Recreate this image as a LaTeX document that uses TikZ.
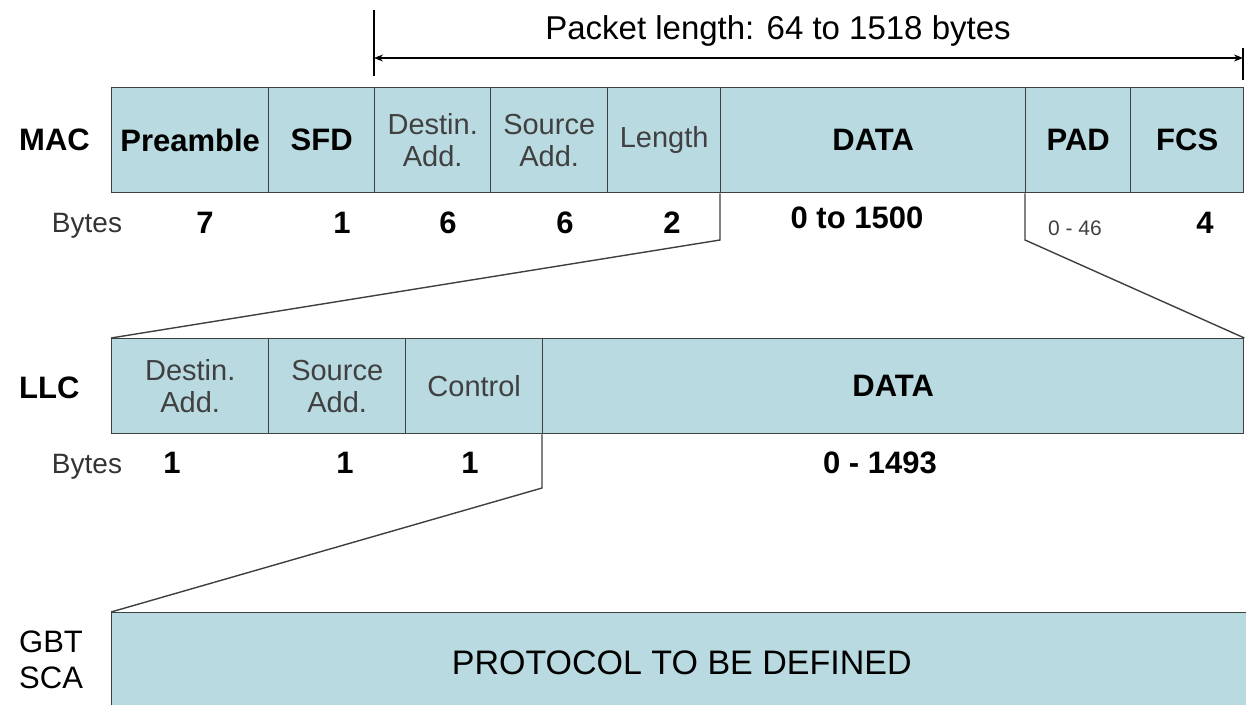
\documentclass[tikz,border=0pt]{standalone}
\usepackage{fontspec}
\setmainfont{Liberation Sans}
\usetikzlibrary{arrows.meta}
\definecolor{cellfill}{RGB}{184,218,224}
\definecolor{edge}{RGB}{60,64,64}
\tikzset{
  cell/.style={draw=edge, line width=1.4pt, fill=cellfill, anchor=north west, inner sep=0pt, align=center, text=black},
  macc/.style={cell, minimum height=105pt},
  llcc/.style={cell, minimum height=95pt},
  big/.style={font=\fontsize{31}{34}\selectfont\bfseries},
  reg/.style={font=\fontsize{29}{32}\selectfont},
  lbl/.style={font=\fontsize{31}{36}\selectfont, align=left, anchor=west, inner sep=0pt},
  num/.style={font=\fontsize{31}{34}\selectfont\bfseries, inner sep=0pt},
  bytes/.style={font=\fontsize{28}{32}\selectfont, inner sep=0pt},
  link/.style={draw=edge, line width=1.4pt},
  dim/.style={draw=black, line width=1.2pt}
}
\begin{document}
\begin{tikzpicture}[x=1pt, y=-1pt]
\useasboundingbox (0,0) rectangle (1246,704);
% title and dimension arrow
\node[font=\fontsize{33}{36}\selectfont, inner sep=0pt] (title) at (778,31) {Packet length: 64 to 1518 bytes};
\coordinate (tl1) at (374,10);
\coordinate (tl2) at (374,76);
\coordinate (tr1) at (1243,48);
\coordinate (tr2) at (1243,80);
\coordinate (al) at (374,58);
\coordinate (ar) at (1243,58);
\draw[dim] (tl1) -- (tl2);
\draw[dim] (tr1) -- (tr2);
\draw[dim, {Stealth[length=9pt,width=7pt]}-{Stealth[length=9pt,width=7pt]}] (al) -- (ar);
% MAC row
\node[lbl, font=\fontsize{31}{36}\selectfont\bfseries] (maclbl) at (19,140) {MAC};
\node[macc, big, minimum width=157pt] (pre) at (111,87) {Preamble};
\node[macc, big, minimum width=106pt] (sfd) at (268,87) {SFD};
\node[macc, reg, minimum width=116pt, text=black!75] (mdst) at (374,87) {Destin.\\Add.};
\node[macc, reg, minimum width=117pt, text=black!75] (msrc) at (490,87) {Source\\Add.};
\node[macc, reg, minimum width=113pt, text=black!75] (mlen) at (607,87) {Length};
\node[macc, big, minimum width=305pt] (mdata) at (720,87) {DATA};
\node[macc, big, minimum width=105pt] (pad) at (1025,87) {PAD};
\node[macc, big, minimum width=113pt] (fcs) at (1130,87) {FCS};
% MAC byte counts
\node[bytes, text=black!80] (mb0) at (87,226) {Bytes};
\node[num] (mb1) at (205,223) {7};
\node[num] (mb2) at (342,223) {1};
\node[num] (mb3) at (448,223) {6};
\node[num] (mb4) at (565,223) {6};
\node[num] (mb5) at (672,223) {2};
\node[num] (mb6) at (857,218) {0 to 1500};
\node[bytes, font=\fontsize{21}{24}\selectfont, text=black!75] (mb7) at (1075,228) {0 - 46};
\node[num] (mb8) at (1205,223) {4};
% LLC row
\node[lbl, font=\fontsize{31}{36}\selectfont\bfseries] (llclbl) at (19,388) {LLC};
\node[llcc, reg, minimum width=157pt, text=black!75] (ldst) at (111,338) {Destin.\\Add.};
\node[llcc, reg, minimum width=137pt, text=black!75] (lsrc) at (268,338) {Source\\Add.};
\node[llcc, reg, minimum width=137pt, text=black!75] (lctl) at (405,338) {Control};
\node[llcc, big, minimum width=701pt] (ldata) at (542,338) {DATA};
% LLC byte counts
\node[bytes, text=black!80] (lb0) at (87,467) {Bytes};
\node[num] (lb1) at (172,463) {1};
\node[num] (lb2) at (345,463) {1};
\node[num] (lb3) at (470,463) {1};
\node[num] (lb4) at (880,463) {0 - 1493};
% GBT SCA row
\node[lbl] (gbtlbl) at (19,660) {GBT\\SCA};
\node[cell, minimum width=1140pt, minimum height=100pt, font=\fontsize{34}{38}\selectfont] (gbt) at (111,612) {PROTOCOL TO BE DEFINED};
% expansion lines
\coordinate (k1) at (720,240);
\coordinate (k2) at (1025,240);
\coordinate (k3) at (542,488);
\draw[link] (mdata.south west) -- (k1) -- (ldst.north west);
\draw[link] (pad.south west) -- (k2) -- (ldata.north east);
\draw[link] (ldata.south west) -- (k3) -- (gbt.north west);
\end{tikzpicture}
\end{document}
